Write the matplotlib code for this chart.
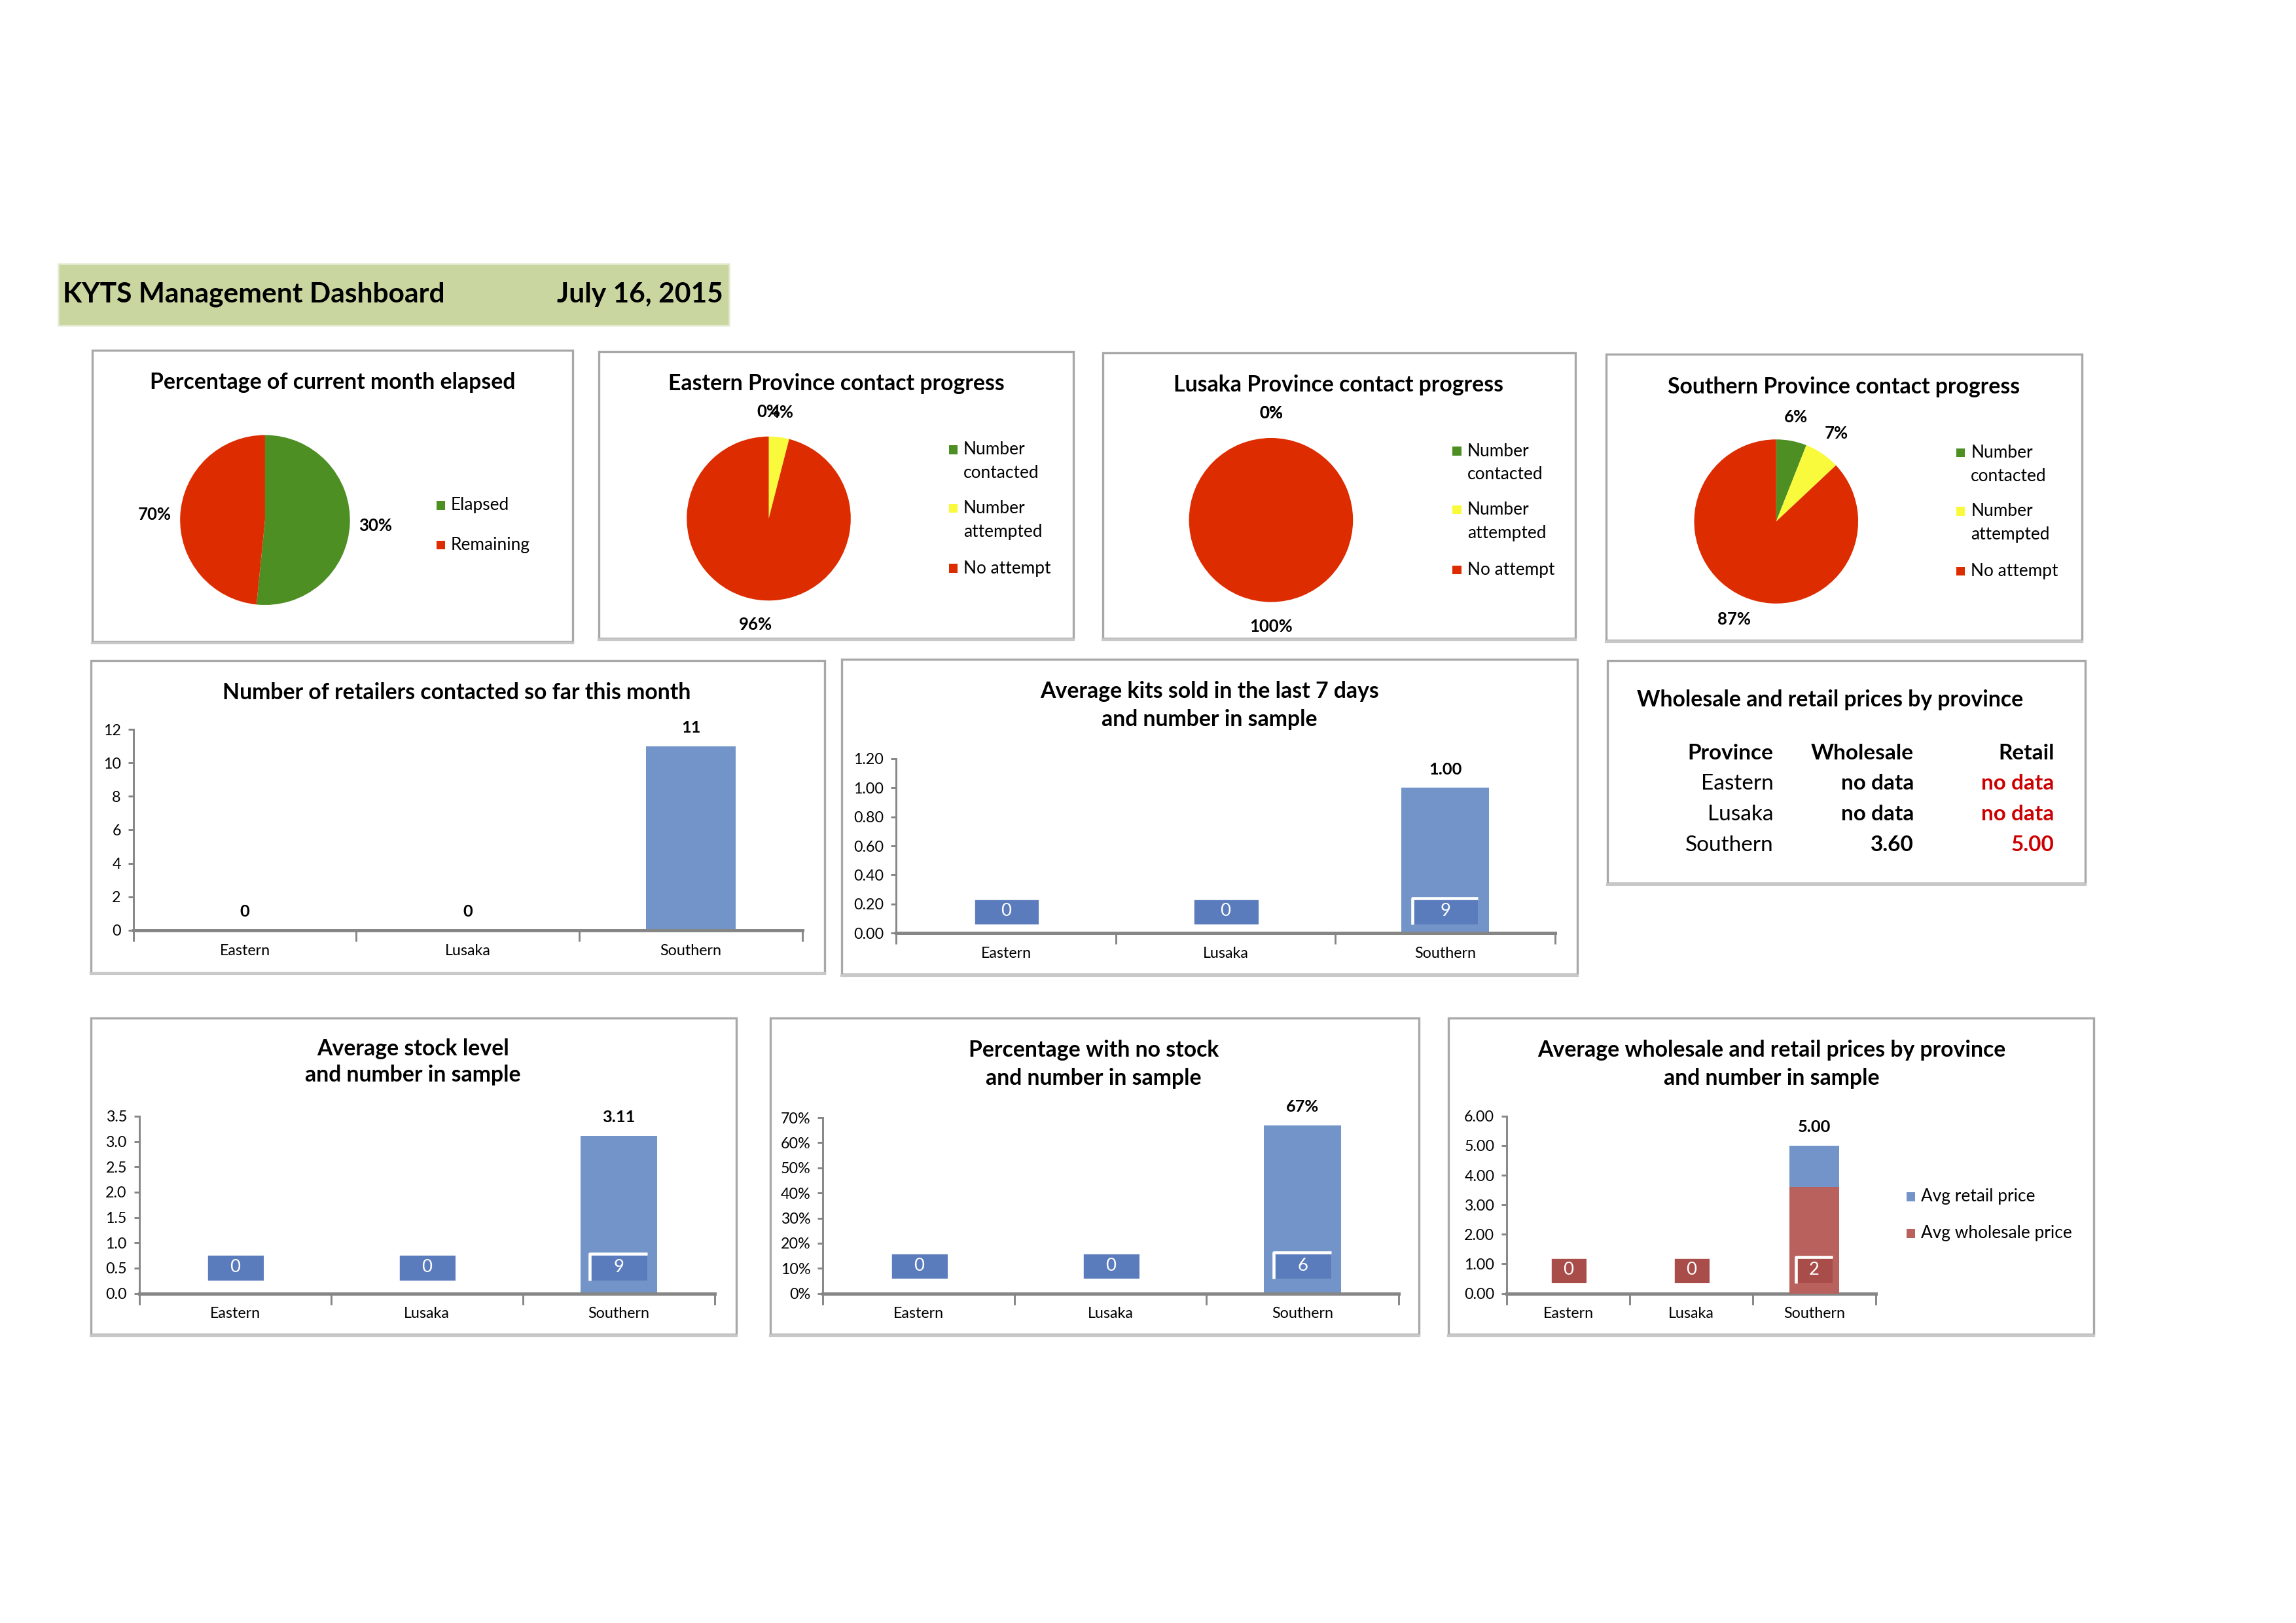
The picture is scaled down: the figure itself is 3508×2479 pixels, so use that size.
import numpy as np
import matplotlib.pyplot as plt
from matplotlib.patches import Rectangle
from matplotlib.transforms import blended_transform_factory

plt.rcParams['font.family'] = ['Lato', 'DejaVu Sans']

# layout is measured on a reduced view of the page
W, H = 1568.0, 1108.0

provinces = ['Eastern', 'Lusaka', 'Southern']

# pies
month_labels = ['Elapsed', 'Remaining']
month_share = [0.516, 0.484]
month_pct_text = ['30%', '70%']

contact_labels = ['Number\ncontacted', 'Number\nattempted', 'No attempt']
eastern_contact = [0.0, 0.04, 0.96]
eastern_pct_text = ['0%', '4%', '96%']
lusaka_contact = [0.0, 0.0, 1.0]
lusaka_pct_text = ['0%', '0%', '100%']
southern_contact = [0.06, 0.07, 0.87]
southern_pct_text = ['6%', '7%', '87%']

# bars
retailers_contacted = [0, 0, 11]
avg_kits = [0, 0, 1.00]
kits_n = [0, 0, 9]
avg_stock = [0, 0, 3.11]
stock_n = [0, 0, 9]
pct_no_stock = [0, 0, 0.67]
no_stock_n = [0, 0, 6]
avg_wholesale = [0, 0, 3.60]
avg_retail = [0, 0, 5.00]
price_n = [0, 0, 2]

# price table
table_wholesale = ['no data', 'no data', '3.60']
table_retail = ['no data', 'no data', '5.00']

GREEN = '#4e8f23'
YELLOW = '#fafa3c'
RED = '#dd2c00'
BLUE = '#7394c8'
BLUE_BOX = '#5b7cbc'
BROWN = '#b9615d'
BROWN_BOX = '#a94d4a'
AXIS = '#868686'

fig = plt.figure(figsize=(3508 / 300, 2479 / 300), dpi=300)


def frac(x0, y0, x1, y1):
    return [x0 / W, 1 - y1 / H, (x1 - x0) / W, (y1 - y0) / H]


def ftext(x, y, s, **kw):
    kw.setdefault('va', 'center')
    return fig.text(x / W, 1 - y / H, s, **kw)


def fsquare(x, y, c, size=6):
    fig.add_artist(Rectangle(((x - size / 2) / W, 1 - (y + size / 2) / H), size / W, size / H,
                             transform=fig.transFigure, color=c, lw=0))


def panel(x0, y0, x1, y1):
    fig.add_artist(Rectangle((x0 / W, 1 - y1 / H), (x1 - x0) / W, (y1 - y0) / H,
                             transform=fig.transFigure, fill=False, ec='#a8a8a8', lw=0.8))
    fig.add_artist(plt.Line2D([x0 / W, x1 / W], [1 - (y1 + 0.8) / H] * 2,
                              transform=fig.transFigure, color='#c8c8c8', lw=1.0))


def title(x, ys, lines, size=8.1):
    for y, s in zip(ys, lines):
        ftext(x, y, s, ha='center', fontsize=size, fontweight='bold')


def legend(x, ys, labels, colors, line=16):
    for y, lab, c in zip(ys, labels, colors):
        fsquare(x, y, c)
        for k, part in enumerate(lab.split('\n')):
            ftext(x + 7, y + k * line, part, ha='left', fontsize=6.3)


def pie_panel(cx, cy, r, values, pct_text, colors):
    ax = fig.add_axes(frac(cx - r, cy - r, cx + r, cy + r))
    wedges, _ = ax.pie(values, colors=colors, startangle=90, counterclock=False,
                       radius=1, wedgeprops=dict(linewidth=0))
    ax.set_xlim(-1, 1)
    ax.set_ylim(-1, 1)
    for w, t in zip(wedges, pct_text):
        ang = np.deg2rad((w.theta1 + w.theta2) / 2)
        ax.text(1.3 * np.cos(ang), 1.3 * np.sin(ang), t, ha='center', va='center',
                fontsize=6.2, fontweight='bold', clip_on=False)
    return ax


def bar_axes(box, ymax, nstep, tickfmt):
    ax = fig.add_axes(frac(*box))
    ax.set_xlim(-0.5, 2.5)
    ax.set_ylim(0, ymax)
    ax.set_yticks(np.linspace(0, ymax, nstep + 1))
    ax.set_yticklabels([tickfmt(v) for v in np.linspace(0, ymax, nstep + 1)])
    ax.set_xticks([-0.5, 0.5, 1.5, 2.5])
    ax.set_xticklabels([])
    ax.set_xticks(range(len(provinces)), minor=True)
    ax.set_xticklabels(provinces, minor=True)
    ax.tick_params(axis='x', which='major', length=4, width=0.7, color=AXIS)
    ax.tick_params(axis='x', which='minor', length=0, pad=5, labelsize=5.6)
    ax.tick_params(axis='y', length=2, width=0.7, color=AXIS, pad=2.5, labelsize=5.6)
    for s in ['top', 'right']:
        ax.spines[s].set_visible(False)
    ax.spines['left'].set_color(AXIS)
    ax.spines['left'].set_linewidth(0.7)
    ax.spines['bottom'].set_color(AXIS)
    ax.spines['bottom'].set_linewidth(1.2)
    ax.set_facecolor('none')
    return ax


def value_labels(ax, values, fmt, skip_zero=False):
    for i, v in enumerate(values):
        if skip_zero and v == 0:
            continue
        ax.annotate(fmt(v), (i, v), xytext=(0, 4), textcoords='offset points',
                    ha='center', va='bottom', fontsize=6.1, fontweight='bold')


def count_boxes(ax, counts, ypos, color):
    # "number in sample" labels drawn as filled boxes, white rim on top and left
    tr = blended_transform_factory(ax.transData, ax.transAxes)
    for i, n in enumerate(counts):
        x0, y0, y1 = i - 0.15, ypos - 0.075, ypos + 0.075
        ax.add_patch(Rectangle((x0, y0), 0.3, 0.15, transform=tr, fc=color, lw=0, zorder=4))
        ax.plot([x0, x0, x0 + 0.3], [y0, y1, y1], transform=tr, color='white', lw=1.1,
                zorder=4.5, solid_capstyle='butt')
        ax.text(i, ypos, str(n), transform=tr, ha='center', va='center',
                color='white', fontsize=6.6, zorder=5)


# header
hb = frac(40, 180, 498, 222)
fig.add_artist(Rectangle(hb[:2], hb[2], hb[3], transform=fig.transFigure,
                         fc='#c9d6a0', ec='#e4ead0', lw=0.6))
ftext(43, 201, 'KYTS Management Dashboard', ha='left', fontsize=10.2, fontweight='bold')
ftext(494, 201, 'July 16, 2015', ha='right', fontsize=10.2, fontweight='bold')

# row 1: pies
panel(63, 239, 391, 438)
title(227, [261], ['Percentage of current month elapsed'])
pie_panel(181, 355, 58, month_share, month_pct_text, [GREEN, RED])
legend(301, [345, 372], month_labels, [GREEN, RED])

pies = [
    ((409, 240, 733, 436), 571, 262, (525, 354, 56), eastern_contact, eastern_pct_text,
     'Eastern Province contact progress'),
    ((753, 241, 1076, 436), 914, 263, (868, 355, 56), lusaka_contact, lusaka_pct_text,
     'Lusaka Province contact progress'),
    ((1097, 242, 1422, 437), 1259, 264, (1213, 356, 56), southern_contact, southern_pct_text,
     'Southern Province contact progress'),
]
for box, tx, ty, (cx, cy, r), vals, txt, name in pies:
    panel(*box)
    title(tx, [ty], [name])
    pie_panel(cx, cy, r, vals, txt, [GREEN, YELLOW, RED])
    legend(box[0] + 242, [box[1] + 67, box[1] + 107, box[1] + 148], contact_labels,
           [GREEN, YELLOW, RED])

# row 2
panel(62, 451, 563, 664)
title(312, [473], ['Number of retailers contacted so far this month'])
ax = bar_axes((91, 498, 548, 635), 12, 6, lambda v: f'{v:.0f}')
ax.bar(range(3), retailers_contacted, width=0.4, color=BLUE, zorder=2)
value_labels(ax, retailers_contacted, lambda v: f'{v:.0f}')

panel(575, 450, 1077, 665)
title(826, [472, 491], ['Average kits sold in the last 7 days', 'and number in sample'])
ax = bar_axes((612, 518, 1062, 637), 1.2, 6, lambda v: f'{v:.2f}')
ax.bar(range(3), avg_kits, width=0.4, color=BLUE, zorder=2)
value_labels(ax, avg_kits, lambda v: f'{v:.2f}', skip_zero=True)
count_boxes(ax, kits_n, 0.126, BLUE_BOX)

panel(1098, 451, 1424, 603)
title(1250, [478], ['Wholesale and retail prices by province'])
ftext(1211, 514, 'Province', ha='right', fontsize=8.0, fontweight='bold')
ftext(1307, 514, 'Wholesale', ha='right', fontsize=8.0, fontweight='bold')
ftext(1403, 514, 'Retail', ha='right', fontsize=8.0, fontweight='bold')
for k, (p, w, rt) in enumerate(zip(provinces, table_wholesale, table_retail)):
    y = 535 + 21 * k
    ftext(1211, y, p, ha='right', fontsize=8.0)
    ftext(1307, y, w, ha='right', fontsize=8.0, fontweight='bold')
    ftext(1403, y, rt, ha='right', fontsize=8.0, fontweight='bold', color='#cc0000')

# row 3
panel(62, 695, 503, 911)
title(282, [716, 734], ['Average stock level', 'and number in sample'])
ax = bar_axes((95, 762, 488, 883), 3.5, 7, lambda v: f'{v:.1f}')
ax.bar(range(3), avg_stock, width=0.4, color=BLUE, zorder=2)
value_labels(ax, avg_stock, lambda v: f'{v:.2f}', skip_zero=True)
count_boxes(ax, stock_n, 0.149, BLUE_BOX)

panel(526, 695, 969, 911)
title(747, [717, 736], ['Percentage with no stock', 'and number in sample'])
ax = bar_axes((562, 763, 955, 883), 0.7, 7, lambda v: f'{v:.0%}')
ax.bar(range(3), pct_no_stock, width=0.4, color=BLUE, zorder=2)
value_labels(ax, pct_no_stock, lambda v: f'{v:.0%}', skip_zero=True)
count_boxes(ax, no_stock_n, 0.158, BLUE_BOX)

panel(989, 695, 1430, 911)
title(1210, [717, 736], ['Average wholesale and retail prices by province', 'and number in sample'])
ax = bar_axes((1029, 762, 1281, 883), 6, 6, lambda v: f'{v:.2f}')
ax.bar(range(3), avg_retail, width=0.4, color=BLUE, zorder=2)
ax.bar(range(3), avg_wholesale, width=0.4, color=BROWN, zorder=3)
value_labels(ax, avg_retail, lambda v: f'{v:.2f}', skip_zero=True)
count_boxes(ax, price_n, 0.132, BROWN_BOX)
legend(1305, [817, 842], ['Avg retail price', 'Avg wholesale price'], [BLUE, BROWN])

fig.savefig('out.png', dpi=300, facecolor='white')
